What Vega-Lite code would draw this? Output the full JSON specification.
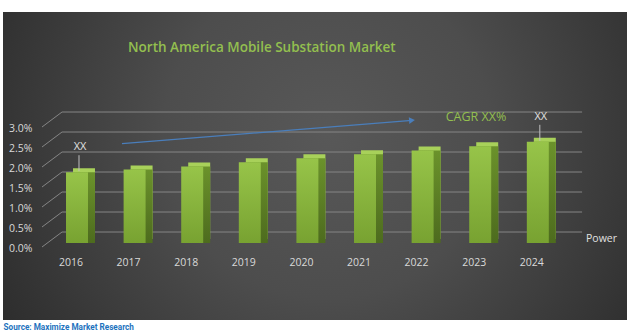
{
  "$schema": "https://vega.github.io/schema/vega-lite/v6.json",
  "width": 624,
  "height": 308,
  "autosize": {"type": "none"},
  "padding": {"left": 3, "top": 12, "right": 5, "bottom": 15},
  "background": "#ffffff",
  "title": {
    "text": "North America Mobile Substation Market",
    "anchor": "start",
    "frame": "group",
    "dx": 125,
    "offset": -53,
    "baseline": "alphabetic",
    "font": "Open Sans",
    "fontSize": 13.5,
    "fontWeight": 600,
    "color": "#93bf4f"
  },
  "datasets": {
    "market": [
      {"year": "2016", "share": 0.0177, "label": "XX"},
      {"year": "2017", "share": 0.0184, "label": ""},
      {"year": "2018", "share": 0.0191, "label": ""},
      {"year": "2019", "share": 0.0202, "label": ""},
      {"year": "2020", "share": 0.0212, "label": ""},
      {"year": "2021", "share": 0.0222, "label": ""},
      {"year": "2022", "share": 0.0231, "label": ""},
      {"year": "2023", "share": 0.0242, "label": ""},
      {"year": "2024", "share": 0.0253, "label": "XX"}
    ],
    "grid": [
      {"level": 0}, {"level": 0.005}, {"level": 0.01}, {"level": 0.015},
      {"level": 0.02}, {"level": 0.025}, {"level": 0.03}
    ]
  },
  "resolve": {"scale": {"x": "independent"}},
  "layer": [
    {
      "layer": [
        {
          "data": {"values": [{}]},
          "mark": {
            "type": "rect",
            "fill": {
              "gradient": "radial",
              "x1": 0.52, "y1": 0.45, "r1": 0,
              "x2": 0.52, "y2": 0.45, "r2": 0.75,
              "stops": [
                {"offset": 0, "color": "#585858"},
                {"offset": 0.35, "color": "#4d4d4d"},
                {"offset": 1, "color": "#1f1f1f"}
              ]
            }
          },
          "encoding": {
            "x": {"datum": 0, "type": "quantitative", "scale": {"domain": [0, 1], "nice": false, "zero": false}, "axis": null},
            "x2": {"datum": 1},
            "y": {"datum": -0.01825, "type": "quantitative", "scale": {"domain": [-0.01825, 0.05875], "nice": false, "zero": false}},
            "y2": {"datum": 0.05875}
          }
        },
        {
          "data": {"name": "grid"},
          "mark": {"type": "rule", "color": "#858585", "strokeWidth": 1, "yOffset": -15, "y2Offset": -15},
          "encoding": {
            "x": {"datum": 0.0946, "type": "quantitative", "axis": null},
            "x2": {"datum": 0.928},
            "y": {"field": "level", "type": "quantitative"},
            "y2": {"field": "level"}
          }
        },
        {
          "data": {"name": "grid"},
          "mark": {"type": "rule", "color": "#858585", "strokeWidth": 1, "y2Offset": -15},
          "encoding": {
            "x": {"datum": 0.0625, "type": "quantitative", "axis": null},
            "x2": {"datum": 0.0946},
            "y": {"field": "level", "type": "quantitative"},
            "y2": {"field": "level"}
          }
        },
        {
          "data": {"values": [{}]},
          "mark": {"type": "rule", "color": "#4a7ebb", "strokeWidth": 1.3},
          "encoding": {
            "x": {"datum": 0.1907, "type": "quantitative", "axis": null},
            "x2": {"datum": 0.6554},
            "y": {"datum": 0.025825, "type": "quantitative"},
            "y2": {"datum": 0.031675}
          }
        },
        {
          "data": {"values": [{}]},
          "mark": {"type": "point", "shape": "triangle-right", "filled": true, "color": "#4a7ebb", "opacity": 1, "size": 45, "angle": -4.6},
          "encoding": {
            "x": {"datum": 0.6554, "type": "quantitative", "axis": null},
            "y": {"datum": 0.031675, "type": "quantitative"}
          }
        },
        {
          "data": {"values": [{}]},
          "mark": {"type": "text", "text": "CAGR XX%", "font": "Open Sans", "fontSize": 12.5, "color": "#93bf4f", "align": "center", "baseline": "middle"},
          "encoding": {
            "x": {"datum": 0.758, "type": "quantitative", "axis": null},
            "y": {"datum": 0.0325, "type": "quantitative"}
          }
        },
        {
          "data": {"values": [{}]},
          "mark": {"type": "text", "text": "Power", "font": "Open Sans", "fontSize": 10.5, "color": "#e0e0e0", "align": "left", "baseline": "middle"},
          "encoding": {
            "x": {"datum": 0.9343, "type": "quantitative", "axis": null},
            "y": {"datum": 0.002, "type": "quantitative"}
          }
        }
      ]
    },
    {
      "data": {"name": "market"},
      "encoding": {
        "x": {
          "field": "year",
          "type": "ordinal",
          "title": "Source: Maximize Market Research",
          "scale": {"paddingInner": 0.167, "paddingOuter": 1, "align": 0.382},
          "axis": {
            "zindex": 2,
            "offset": -65,
            "labelPadding": 2,
            "labelAngle": 0,
            "domain": false,
            "ticks": false,
            "grid": false,
            "labelFont": "Open Sans",
            "labelFontSize": 10.5,
            "labelColor": "#d9d9d9",
            "titleX": 0,
            "titleY": 72,
            "titleAlign": "left",
            "titleAnchor": "start",
            "titleBaseline": "middle",
            "titleFont": "Roboto",
            "titleFontSize": 8.2,
            "titleFontWeight": "bold",
            "titleColor": "#1e73be"
          }
        }
      },
      "layer": [
        {
          "mark": {"type": "bar", "width": {"band": 0.458}, "color": "#a8d15a", "xOffset": 13, "yOffset": -8, "y2Offset": -8},
          "encoding": {"y": {"field": "share", "type": "quantitative"}}
        },
        {
          "mark": {
            "type": "bar",
            "width": {"band": 0.458},
            "xOffset": 13, "yOffset": -4, "y2Offset": -8,
            "color": {
              "gradient": "linear", "x1": 0, "y1": 0, "x2": 0, "y2": 1,
              "stops": [{"offset": 0, "color": "#6b922b"}, {"offset": 1, "color": "#4d6b1e"}]
            }
          },
          "encoding": {"y": {"field": "share", "type": "quantitative"}}
        },
        {
          "mark": {
            "type": "bar",
            "width": {"band": 0.458},
            "xOffset": 6, "yOffset": -4, "y2Offset": -4,
            "color": {
              "gradient": "linear", "x1": 0, "y1": 0, "x2": 0, "y2": 1,
              "stops": [{"offset": 0, "color": "#97c449"}, {"offset": 1, "color": "#78a231"}]
            }
          },
          "encoding": {
            "y": {
              "field": "share",
              "type": "quantitative",
              "scale": {"domain": [-0.01825, 0.05875], "nice": false, "zero": false},
              "axis": {
                "zindex": 2,
                "title": null,
                "values": [0, 0.005, 0.01, 0.015, 0.02, 0.025, 0.03],
                "format": ".1%",
                "offset": -39,
                "labelPadding": 10,
                "domain": false,
                "ticks": false,
                "grid": false,
                "labelFont": "Open Sans",
                "labelFontSize": 10.5,
                "labelColor": "#d9d9d9",
                "labelOffset": 1
              }
            }
          }
        },
        {
          "transform": [{"filter": "datum.label != ''"}],
          "mark": {"type": "rule", "color": "#bfbfbf", "strokeWidth": 1, "xOffset": 8, "yOffset": -21, "y2Offset": -5},
          "encoding": {
            "y": {"field": "share", "type": "quantitative"},
            "y2": {"field": "share"}
          }
        },
        {
          "transform": [{"filter": "datum.label != ''"}],
          "mark": {"type": "text", "font": "Open Sans", "fontSize": 11, "color": "#e0e0e0", "dx": 9, "dy": -29, "baseline": "middle"},
          "encoding": {
            "y": {"field": "share", "type": "quantitative"},
            "text": {"field": "label"}
          }
        }
      ]
    }
  ],
  "config": {
    "view": {"stroke": null}
  }
}
